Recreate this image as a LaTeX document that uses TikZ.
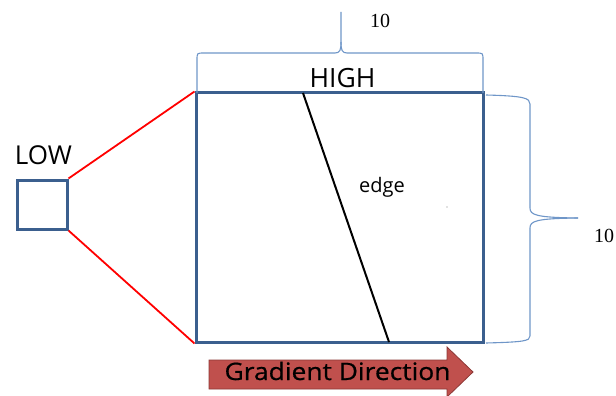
\documentclass[tikz,border=0pt]{standalone}
\usepackage{fontspec}
\setmainfont{Open Sans}
\newfontfamily\numfont{Liberation Serif}
\newfontfamily\gradfont[FakeStretch=1.1,FakeBold=0.6]{Open Sans}
\definecolor{boxblue}{HTML}{3B5F8E}
\definecolor{bracecol}{HTML}{6F96C8}
\definecolor{arrowfill}{HTML}{C0504D}
\definecolor{arrowline}{HTML}{8C3836}
\begin{document}
\begin{tikzpicture}[x=1pt,y=-1pt,
  sq/.style={draw=boxblue,line width=3pt,inner sep=0pt},
  zoomline/.style={draw=red,line width=1.8pt},
  edgeline/.style={draw=black,line width=2pt},
  bracestyle/.style={draw=bracecol,line width=1.1pt},
  lbl/.style={inner sep=0pt,anchor=base},
  num/.style={inner sep=0pt,anchor=base,font=\numfont\fontsize{20}{24}\selectfont}]
\useasboundingbox (0,0) rectangle (616,396);
% squares
\node[sq,minimum width=50pt,minimum height=49pt] (low) at (42,204.5) {};
\node[sq,minimum width=287pt,minimum height=249pt] (high) at (339.5,217.5) {};
% labels
\node[lbl,font=\fontsize{26}{30}\selectfont] (lowlbl) at (43.5,164) {LOW};
\node[lbl,font=\fontsize{26.5}{30}\selectfont] (highlbl) at (342.5,88) {HIGH};
\node[lbl,font=\fontsize{20}{24}\selectfont] (edgelbl) at (382,192) {edge};
% zoom lines
\draw[zoomline] (low.north east) -- (high.north west);
\draw[zoomline] (low.south east) -- (high.south west);
% edge
\coordinate (e1) at (303,93);
\coordinate (e2) at (389,342);
\draw[edgeline] (e1) -- (e2);
% tiny dot
\fill[gray] (447,207) circle (0.7pt);
% top brace
\coordinate (tb1) at (197,93);
\coordinate (tb2) at (483,93);
\coordinate (ttip) at (341,12);
\draw[bracestyle] (tb1) -- (197,60) .. controls (197,53) .. (204,53) -- (335,53)
  .. controls (340,53) and (341,50) .. (341,42) -- (ttip);
\draw[bracestyle] (341,42) .. controls (341,50) and (342,53) .. (347,53) -- (476,53)
  .. controls (483,53) .. (483,60) -- (tb2);
\node[num] (topnum) at (380,28) {10};
% right brace
\coordinate (rb1) at (486,95);
\coordinate (rb2) at (486,343);
\coordinate (rtip) at (578,218);
\draw[bracestyle] (rb1) .. controls (524,96) and (530,98) .. (530,104) -- (530,208)
  .. controls (530,215) and (536,217.5) .. (rtip);
\draw[bracestyle] (rtip) .. controls (536,218.5) and (530,221) .. (530,228) -- (530,336)
  .. controls (530,341) and (524,342) .. (rb2);
\node[num] (rightnum) at (604,242) {10};
% gradient arrow
\draw[fill=arrowfill,draw=arrowline,line width=0.8pt]
  (209,360) -- (447,360) -- (447,347) -- (473,372) -- (447,397) -- (447,389) -- (209,389) -- cycle;
\node[lbl,font=\gradfont\fontsize{24}{28}\selectfont] (grad) at (337.5,380) {Gradient Direction};
\end{tikzpicture}
\end{document}
